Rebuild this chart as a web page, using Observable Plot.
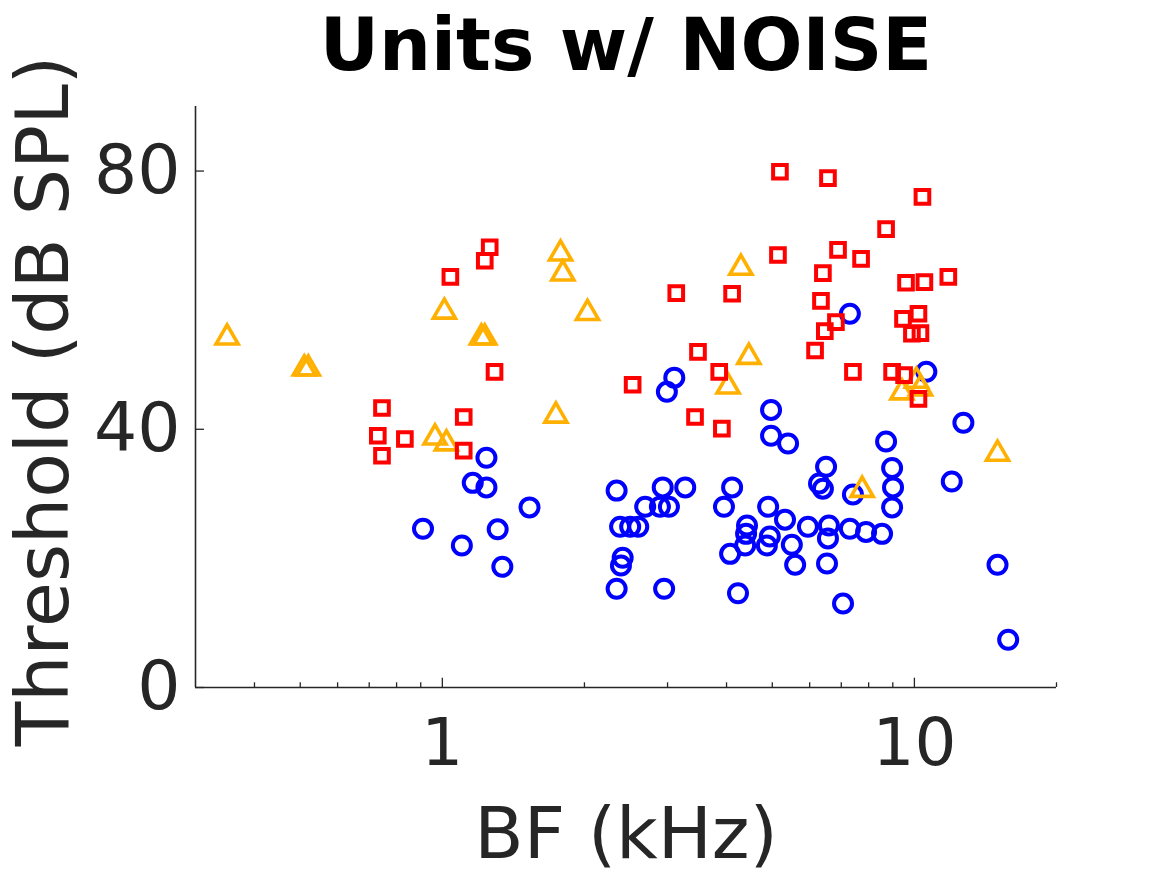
<!DOCTYPE html>
<html>
<head>
<meta charset="utf-8">
<script src="https://cdn.jsdelivr.net/npm/d3@7"></script>
<script src="https://cdn.jsdelivr.net/npm/@observablehq/plot@0.6"></script>
<style>
  html, body { margin: 0; padding: 0; background: white; }
</style>
</head>
<body>
<div id="chart"></div>
<script>
const titleText = "Units w/ NOISE";
const xLabel = "BF (kHz)";
const yLabel = "Threshold (dB SPL)";

const xMajorTicks = [1, 10];
const xMinorTicks = [0.4, 0.5, 0.6, 0.7, 0.8, 0.9, 2, 3, 4, 5, 6, 7, 8, 9, 20];
const yTicks = [0, 40, 80];

// Blue circles
const circleBF = [1.24,1.16,1.24,1.53,0.91,1.10,1.31,1.34,2.34,2.38,2.50,2.60,2.41,2.39,2.34,2.93,3.27,2.69,2.89,3.02,2.95,3.10,2.99,4.11,3.95,4.97,4.97,5.40,4.90,5.32,5.95,4.42,4.40,4.38,4.94,4.87,5.50,4.07,5.59,4.23,6.50,6.28,6.40,7.30,7.41,6.59,6.56,6.53,7.30,7.90,8.54,7.06,8.71,8.97,9.01,8.97,10.6,12.0,12.7,15.0,15.8];
const circleThr = [35.6,31.7,31.0,27.9,24.6,22.0,24.5,18.7,30.5,24.9,24.9,24.9,20.1,18.9,15.3,31.0,31.0,28.0,28.0,28.0,15.3,48.0,45.8,31.0,28.0,43.0,39.0,37.8,28.0,26.0,24.9,25.1,23.8,22.0,23.4,22.0,22.1,20.7,19.0,14.6,34.2,31.6,30.8,57.9,29.9,25.1,23.1,19.2,24.6,24.1,23.8,13.0,38.1,34.0,31.0,27.9,48.9,31.9,41.0,19.0,7.4];

// Orange triangles
const triBF = [0.35,0.51,0.52,1.01,1.21,1.23,0.965,1.02,1.78,1.80,2.03,1.74,4.29,4.46,4.03,7.75,9.41,10.1,10.3,15.0];
const triThr = [54.2,49.4,49.4,58.2,54.2,54.2,38.7,37.8,67.2,64.1,58.0,42.1,65.0,51.2,46.6,30.6,45.7,47.5,46.3,36.2];

// Red squares
const sqBF = [0.745,0.73,0.745,0.833,1.11,1.11,1.29,1.04,1.23,1.26,2.53,3.13,3.48,3.43,3.86,3.91,4.11,5.19,6.56,10.4,8.71,5.14,6.89,7.71,6.40,6.34,9.60,10.5,11.8,9.46,10.2,9.88,10.3,6.82,6.46,6.16,7.41,8.97,9.51,10.2];
const sqThr = [43.3,39.0,35.9,38.5,41.9,36.7,48.9,63.6,66.1,68.2,46.9,61.1,52.0,41.9,48.9,40.1,61.0,79.9,78.9,76.0,71.0,67.0,67.8,66.4,64.2,59.9,62.7,62.8,63.6,57.1,57.9,54.8,54.9,56.6,55.2,52.2,48.9,48.9,48.4,44.7];

const toRows = (xs, ys) => xs.map((x, i) => ({bf: x, thr: ys[i]}));
const circles = toRows(circleBF, circleThr);
const triangles = toRows(triBF, triThr);
const squares = toRows(sqBF, sqThr);

const ink = "#262626";
const xDomain = [0.3, 20];
const yDomain = [0, 90];
const pxPerY = (875 - 106 - 188) / (yDomain[1] - yDomain[0]);
const pxPerDecade = (1167 - 195 - 111) / Math.log10(xDomain[1] / xDomain[0]);

const chart = Plot.plot({
  width: 1167,
  height: 875,
  marginLeft: 195,
  marginRight: 111,
  marginTop: 106,
  marginBottom: 188,
  x: {type: "log", domain: xDomain},
  y: {domain: yDomain},
  style: {fontFamily: "DejaVu Sans", background: "white", color: ink, overflow: "visible"},
  marks: [
    Plot.ruleY([0], {stroke: ink, strokeWidth: 1.6}),
    Plot.ruleX([xDomain[0]], {stroke: ink, strokeWidth: 1.6}),
    Plot.ruleX(xMinorTicks, {x: d => d, y1: 0, y2: 4.7 / pxPerY, stroke: ink, strokeWidth: 1.3}),
    Plot.ruleX(xMajorTicks, {x: d => d, y1: 0, y2: 9.3 / pxPerY, stroke: ink, strokeWidth: 1.3}),
    Plot.ruleY(yTicks, {y: d => d, x1: xDomain[0], x2: xDomain[0] * Math.pow(10, 9 / pxPerDecade), stroke: ink, strokeWidth: 1.3}),
    Plot.axisX({ticks: xMajorTicks, tickSize: 0, tickPadding: 31, fontSize: 66, tickFormat: d => String(d), label: null}),
    Plot.axisY({ticks: yTicks, tickSize: 0, tickPadding: 15, fontSize: 68, tickFormat: d => String(d), label: null}),
    Plot.dot(circles, {x: "bf", y: "thr", symbol: "circle", r: 9, stroke: "#0000FF", fill: "none", strokeWidth: 4}),
    Plot.dot(triangles, {x: "bf", y: "thr", symbol: "triangle", r: 8.2, stroke: "#FFB000", fill: "none", strokeWidth: 3.6, strokeLinejoin: "miter"}),
    Plot.dot(squares, {x: "bf", y: "thr", symbol: "square", r: 7.7, stroke: "#FF0000", fill: "none", strokeWidth: 4, strokeLinejoin: "miter"}),
    Plot.text([titleText], {frameAnchor: "top", dy: -60, fontSize: 73, fontWeight: "bold", fill: "black", textAnchor: "middle", lineAnchor: "middle"}),
    Plot.text([xLabel], {frameAnchor: "bottom", dy: 147, fontSize: 72, fill: ink, textAnchor: "middle", lineAnchor: "middle"}),
    Plot.text([yLabel], {frameAnchor: "left", dx: -151, dy: 4, rotate: -90, fontSize: 73, fill: ink, textAnchor: "middle", lineAnchor: "middle"})
  ]
});
document.getElementById("chart").appendChild(chart);
</script>
</body>
</html>
